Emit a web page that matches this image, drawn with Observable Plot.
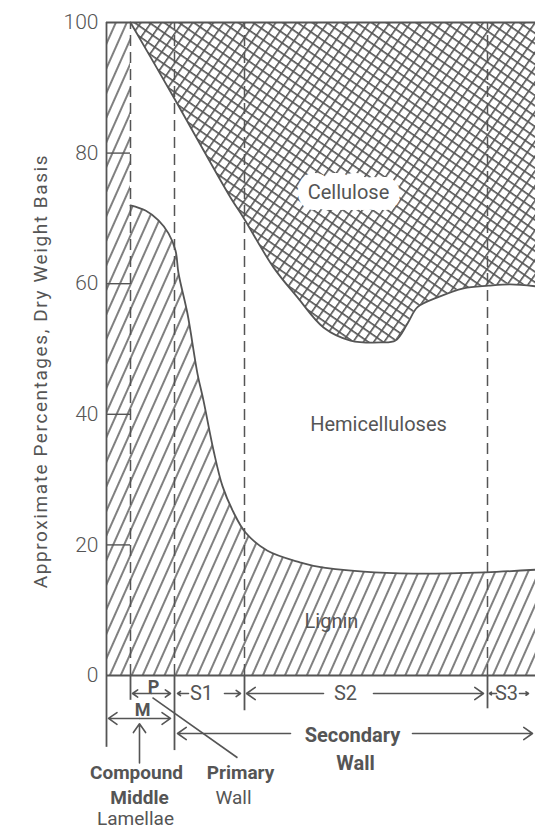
<!DOCTYPE html>
<html><head><meta charset="utf-8">
<script src="https://cdn.jsdelivr.net/npm/d3@7"></script>
<script src="https://cdn.jsdelivr.net/npm/@observablehq/plot@0.6"></script>
<style>body{margin:0;background:#fff}</style>
</head><body><div id="chart"></div>
<script>
// ---- data (x: arbitrary position across the cell wall, y: % dry weight)
const yTicks = [0, 20, 40, 60, 80, 100];
const layerBoundaries = [24, 68, 138, 381];           // M|P, P|S1, S1|S2, S2|S3
const wallEnd = 429;

const ligninU = [24, 39, 52, 62, 69, 72, 81, 91, 97, 107, 116, 127, 139, 161, 194, 207, 257, 307, 379, 429];
const ligninV = [72.0, 71.2, 69.7, 67.7, 65.1, 61.6, 55.4, 46.2, 42.1, 34.5, 29.0, 25.0, 21.9, 19.1, 17.3, 16.8, 15.9, 15.6, 15.8, 16.2];

const celluloseU = [24, 67, 124, 137, 167, 191, 217, 244, 274, 289, 301, 311, 331, 357, 382, 404, 429];
const celluloseV = [100, 88.6, 73.2, 70.1, 62.5, 57.9, 53.3, 51.3, 51.0, 51.3, 53.9, 56.4, 57.9, 59.3, 59.7, 59.9, 59.6];

const regionNames = ["Cellulose", "Hemicelluloses", "Lignin"];
const yLabel = "Approximate Percentages, Dry Weight Basis";

// ---- tables built from the arrays
const lignin = ligninU.map((u, i) => ({u, v: ligninV[i]}));
const cellulose = celluloseU.map((u, i) => ({u, v: celluloseV[i]}));

const regionLabels = [
  {text: regionNames[0], u: 242, v: 73.9},
  {text: regionNames[1], u: 272, v: 38.4},
  {text: regionNames[2], u: 225, v: 8.3}
];

// extensions of the layer boundaries below the baseline
const boundaryTails = [
  {u: 0, v: -11.0}, {u: 24, v: -3.8}, {u: 68, v: -11.5}, {u: 138, v: -5.4}, {u: 381, v: -5.1}
];

const rowLayer = -2.76, rowM = -6.58, rowSec = -8.88;
const arrows = [
  {u1: 45, v1: rowLayer, u2: 26, v2: rowLayer}, {u1: 45, v1: rowLayer, u2: 64, v2: rowLayer},
  {u1: 33, v1: rowM, u2: 2, v2: rowM}, {u1: 33, v1: rowM, u2: 64, v2: rowM},
  {u1: 82, v1: rowLayer, u2: 71, v2: rowLayer}, {u1: 118, v1: rowLayer, u2: 134, v2: rowLayer},
  {u1: 217, v1: rowLayer, u2: 140, v2: rowLayer}, {u1: 267, v1: rowLayer, u2: 377, v2: rowLayer},
  {u1: 390, v1: rowLayer, u2: 383, v2: rowLayer}, {u1: 413, v1: rowLayer, u2: 422, v2: rowLayer},
  {u1: 184, v1: rowSec, u2: 71, v2: rowSec}, {u1: 306, v1: rowSec, u2: 426, v2: rowSec},
  {u1: 33, v1: -13.4, u2: 33, v2: -7.4}
];
const pointer = [{u1: 131, v1: -12.6, u2: 46, v2: -3.4}];

const boldLabels = [
  {text: "P", u: 47, v: -1.75, s: 18},
  {text: "M", u: 36, v: -5.3, s: 18},
  {text: "Secondary", u: 246, v: -9.2, s: 20},
  {text: "Wall", u: 249, v: -13.5, s: 20},
  {text: "Compound", u: 30, v: -14.85, s: 19},
  {text: "Middle", u: 33, v: -18.75, s: 19},
  {text: "Primary", u: 134, v: -14.85, s: 19}
];
const plainLabels = [
  {text: "S1", u: 95, v: -2.76, s: 20},
  {text: "S2", u: 239, v: -2.76, s: 20},
  {text: "S3", u: 400, v: -2.76, s: 20},
  {text: "Lamellae", u: 29, v: -22.0, s: 19},
  {text: "Wall", u: 127, v: -18.75, s: 19}
];

const ink = "#555";
const lineW = 1.8;

const chart = Plot.plot({
  width: 535, height: 829,
  marginLeft: 106, marginRight: 0, marginTop: 22, marginBottom: 154,
  x: {domain: [0, wallEnd], axis: null},
  y: {domain: [0, 100], axis: null},
  style: {fontFamily: "Roboto, 'Liberation Sans', sans-serif", color: ink, background: "#fff"},
  marks: [
    // compound middle lamella strip
    Plot.rect([{u1: 0, u2: layerBoundaries[0], v1: 0, v2: 100}], {x1: "u1", x2: "u2", y1: "v1", y2: "v2", fill: "url(#hatch)"}),
    // lignin
    Plot.areaY(lignin, {x: "u", y: "v", fill: "url(#hatch)", curve: "catmull-rom"}),
    // cellulose
    Plot.areaY(cellulose, {x: "u", y1: "v", y2: 100, fill: "url(#cross)", curve: "catmull-rom"}),
    Plot.lineY(lignin, {x: "u", y: "v", stroke: ink, strokeWidth: lineW, curve: "catmull-rom"}),
    Plot.lineY(cellulose, {x: "u", y: "v", stroke: ink, strokeWidth: lineW, curve: "catmull-rom"}),
    // layer boundaries (dashed)
    Plot.ruleX(layerBoundaries, {y1: 0, y2: 100, stroke: ink, strokeWidth: 1.5, strokeDasharray: "11,6"}),
    Plot.ruleX(boundaryTails, {x: "u", y1: 0, y2: "v", stroke: ink, strokeWidth: lineW}),
    // frame: axis, top, baseline, internal ticks
    Plot.ruleX([0], {y1: 0, y2: 100, stroke: ink, strokeWidth: lineW}),
    Plot.ruleY([0, 100], {x1: 0, x2: wallEnd, stroke: ink, strokeWidth: lineW}),
    Plot.ruleY(yTicks.filter(t => t > 0 && t < 100), {x1: 0, x2: layerBoundaries[0], stroke: ink, strokeWidth: 1.4}),
    Plot.axisY(yTicks, {anchor: "left", tickSize: 0, tickPadding: 8, fontSize: 21, fontWeight: 300, label: null}),
    Plot.text([{text: yLabel, u: -66, v: 46.5}], {x: "u", y: "v", text: "text", rotate: -90, fontSize: 19, fill: ink}),
    // region labels
    Plot.text(regionLabels, {x: "u", y: "v", text: "text", fontSize: 20, fill: ink,
      stroke: (d) => d.text === regionNames[0] ? "white" : "none", strokeWidth: 22, strokeLinejoin: "round", paintOrder: "stroke"}),
    // annotations below the axis
    Plot.arrow(arrows, {x1: "u1", y1: "v1", x2: "u2", y2: "v2", stroke: ink, strokeWidth: 1.6, headLength: 10, headAngle: 70}),
    Plot.link(pointer, {x1: "u1", y1: "v1", x2: "u2", y2: "v2", stroke: ink, strokeWidth: 1.6}),
    Plot.text(boldLabels, {x: "u", y: "v", text: "text", fontSize: "s", fontWeight: "bold", fill: ink}),
    Plot.text(plainLabels, {x: "u", y: "v", text: "text", fontSize: "s", fill: ink})
  ]
});

// hatch patterns
const svg = d3.select(chart);
const defs = svg.insert("defs", ":first-child");
const h = defs.append("pattern").attr("id", "hatch").attr("patternUnits", "userSpaceOnUse")
  .attr("width", 10).attr("height", 10).attr("patternTransform", "rotate(24)");
h.append("rect").attr("width", 10).attr("height", 10).attr("fill", "#fff");
h.append("line").attr("x1", 5).attr("y1", 0).attr("x2", 5).attr("y2", 10).attr("stroke", "#555").attr("stroke-width", 1.5);
const c = defs.append("pattern").attr("id", "cross").attr("patternUnits", "userSpaceOnUse")
  .attr("width", 8.5).attr("height", 8.5).attr("patternTransform", "rotate(35)");
c.append("rect").attr("width", 8.5).attr("height", 8.5).attr("fill", "#fff");
c.append("path").attr("d", "M0,0.8H8.5M0.8,0V8.5").attr("stroke", "#555").attr("stroke-width", 1.6).attr("fill", "none");

svg.selectAll("text").filter(function () { return this.textContent === yLabel; })
  .attr("textLength", 433).attr("lengthAdjust", "spacing");

document.getElementById("chart").append(chart);
</script>
</body></html>
